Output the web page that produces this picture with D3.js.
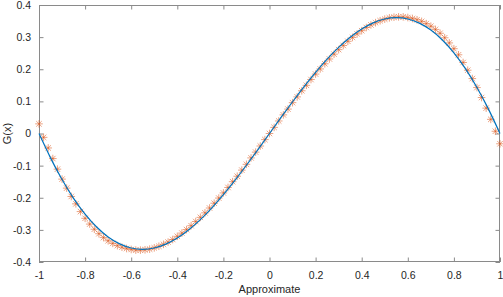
<!DOCTYPE html>
<html>
<head>
<meta charset="utf-8">
<script src="https://cdn.jsdelivr.net/npm/d3@7"></script>
<style>
	body { margin: 0; background: #fff; }
	svg { display: block; font-family: "Liberation Sans", Arial, sans-serif; }
</style>
</head>
<body>
<svg id="chart" width="503" height="297"></svg>
<script>
// exact curve G(x), sampled every 0.05
const curveX = [-1, -0.95, -0.9, -0.85, -0.8, -0.75, -0.7, -0.65, -0.6, -0.55, -0.5,
	-0.45, -0.4, -0.35, -0.3, -0.25, -0.2, -0.15, -0.1, -0.05, 0,
	0.05, 0.1, 0.15, 0.2, 0.25, 0.3, 0.35, 0.4, 0.45, 0.5,
	0.55, 0.6, 0.65, 0.7, 0.75, 0.8, 0.85, 0.9, 0.95, 1];
const curveY = [0, -0.0759, -0.1433, -0.2018, -0.2511, -0.2912, -0.322, -0.3437, -0.3564, -0.3604, -0.3563,
	-0.3443, -0.3252, -0.2996, -0.2681, -0.2314, -0.1905, -0.146, -0.0988, -0.0499, 0,
	0.0499, 0.0988, 0.146, 0.1905, 0.2314, 0.2681, 0.2996, 0.3252, 0.3443, 0.3563,
	0.3604, 0.3564, 0.3437, 0.322, 0.2912, 0.2511, 0.2018, 0.1433, 0.0759, 0];

// approximation, every 0.02
const approxX = [-1, -0.98, -0.96, -0.94, -0.92, -0.9, -0.88, -0.86, -0.84, -0.82,
	-0.8, -0.78, -0.76, -0.74, -0.72, -0.7, -0.68, -0.66, -0.64, -0.62,
	-0.6, -0.58, -0.56, -0.54, -0.52, -0.5, -0.48, -0.46, -0.44, -0.42,
	-0.4, -0.38, -0.36, -0.34, -0.32, -0.3, -0.28, -0.26, -0.24, -0.22,
	-0.2, -0.18, -0.16, -0.14, -0.12, -0.1, -0.08, -0.06, -0.04, -0.02,
	0, 0.02, 0.04, 0.06, 0.08, 0.1, 0.12, 0.14, 0.16, 0.18,
	0.2, 0.22, 0.24, 0.26, 0.28, 0.3, 0.32, 0.34, 0.36, 0.38,
	0.4, 0.42, 0.44, 0.46, 0.48, 0.5, 0.52, 0.54, 0.56, 0.58,
	0.6, 0.62, 0.64, 0.66, 0.68, 0.7, 0.72, 0.74, 0.76, 0.78,
	0.8, 0.82, 0.84, 0.86, 0.88, 0.9, 0.92, 0.94, 0.96, 0.98, 1];
const approxY = [0.03, -0.012, -0.045, -0.078, -0.111, -0.142, -0.17, -0.196, -0.219, -0.243,
	-0.264, -0.282, -0.298, -0.312, -0.324, -0.334, -0.342, -0.349, -0.354, -0.358,
	-0.361, -0.363, -0.363, -0.362, -0.36, -0.356, -0.351, -0.345, -0.338, -0.33,
	-0.32, -0.31, -0.299, -0.287, -0.274, -0.261, -0.247, -0.232, -0.217, -0.201,
	-0.185, -0.168, -0.15, -0.133, -0.114, -0.096, -0.076, -0.058, -0.039, -0.019,
	0, 0.019, 0.039, 0.058, 0.076, 0.096, 0.114, 0.133, 0.15, 0.168,
	0.185, 0.201, 0.217, 0.232, 0.247, 0.261, 0.274, 0.287, 0.299, 0.31,
	0.32, 0.33, 0.338, 0.345, 0.351, 0.356, 0.36, 0.362, 0.363, 0.363,
	0.361, 0.358, 0.354, 0.349, 0.342, 0.334, 0.324, 0.312, 0.298, 0.282,
	0.264, 0.245, 0.221, 0.197, 0.171, 0.143, 0.112, 0.079, 0.044, 0.007, -0.032];

const xTicks = [-1, -0.8, -0.6, -0.4, -0.2, 0, 0.2, 0.4, 0.6, 0.8, 1];
const yTicks = [-0.4, -0.3, -0.2, -0.1, 0, 0.1, 0.2, 0.3, 0.4];

const margin = {top: 5, right: 3, bottom: 35, left: 39};
const width = 503 - margin.left - margin.right;
const height = 297 - margin.top - margin.bottom;

const svg = d3.select("#chart");
const g = svg.append("g")
	.attr("transform", `translate(${margin.left},${margin.top})`);

const x = d3.scaleLinear().domain([-1, 1]).range([0, width]);
const y = d3.scaleLinear().domain([-0.4, 0.4]).range([height, 0]);

const fmt = v => String(+v.toFixed(1));
const tickLen = 4.5;
const axisColor = "#8a8a8a";

function styleAxis(sel, showText) {
	sel.select(".domain").remove();
	sel.selectAll(".tick line").attr("stroke", axisColor);
	sel.selectAll(".tick text")
		.attr("fill", "#262626")
		.style("font-size", "10.5px")
		.style("display", showText ? null : "none");
}

g.append("g")
	.attr("transform", `translate(0,${height})`)
	.call(d3.axisBottom(x).tickValues(xTicks).tickFormat(fmt).tickSizeInner(-tickLen).tickSizeOuter(0).tickPadding(10))
	.call(s => styleAxis(s, true));
g.append("g")
	.call(d3.axisTop(x).tickValues(xTicks).tickSizeInner(-tickLen).tickSizeOuter(0))
	.call(s => styleAxis(s, false));
g.append("g")
	.call(d3.axisLeft(y).tickValues(yTicks).tickFormat(fmt).tickSizeInner(-tickLen).tickSizeOuter(0).tickPadding(8))
	.call(s => styleAxis(s, true));
g.append("g")
	.attr("transform", `translate(${width},0)`)
	.call(d3.axisRight(y).tickValues(yTicks).tickSizeInner(-tickLen).tickSizeOuter(0))
	.call(s => styleAxis(s, false));

g.append("rect")
	.attr("x", 0.5).attr("y", 0.5)
	.attr("width", width - 1).attr("height", height - 1)
	.attr("fill", "none")
	.attr("stroke", axisColor);

// asterisk markers (+ and x overlaid)
const r = 3.8, rd = r * 0.72;
const star = `M${-r},0L${r},0M0,${-r}L0,${r}M${-rd},${-rd}L${rd},${rd}M${-rd},${rd}L${rd},${-rd}`;

g.append("g")
	.selectAll("path")
	.data(approxX.map((v, i) => [v, approxY[i]]))
	.join("path")
	.attr("transform", d => `translate(${x(d[0])},${y(d[1])})`)
	.attr("d", star)
	.attr("fill", "none")
	.attr("stroke", "#D95319")
	.attr("stroke-opacity", 0.6)
	.attr("stroke-width", 0.9);

const line = d3.line()
	.x(d => x(d[0]))
	.y(d => y(d[1]))
	.curve(d3.curveNatural);

g.append("path")
	.datum(curveX.map((v, i) => [v, curveY[i]]))
	.attr("d", line)
	.attr("fill", "none")
	.attr("stroke", "#0072BD")
	.attr("stroke-width", 1.2);

svg.append("text")
	.attr("x", margin.left + width / 2)
	.attr("y", 293)
	.attr("text-anchor", "middle")
	.attr("fill", "#262626")
	.style("font-size", "11px")
	.text("Approximate");

svg.append("text")
	.attr("transform", `translate(11,${margin.top + height / 2}) rotate(-90)`)
	.attr("text-anchor", "middle")
	.attr("fill", "#262626")
	.style("font-size", "11px")
	.text("G(x)");
</script>
</body>
</html>
